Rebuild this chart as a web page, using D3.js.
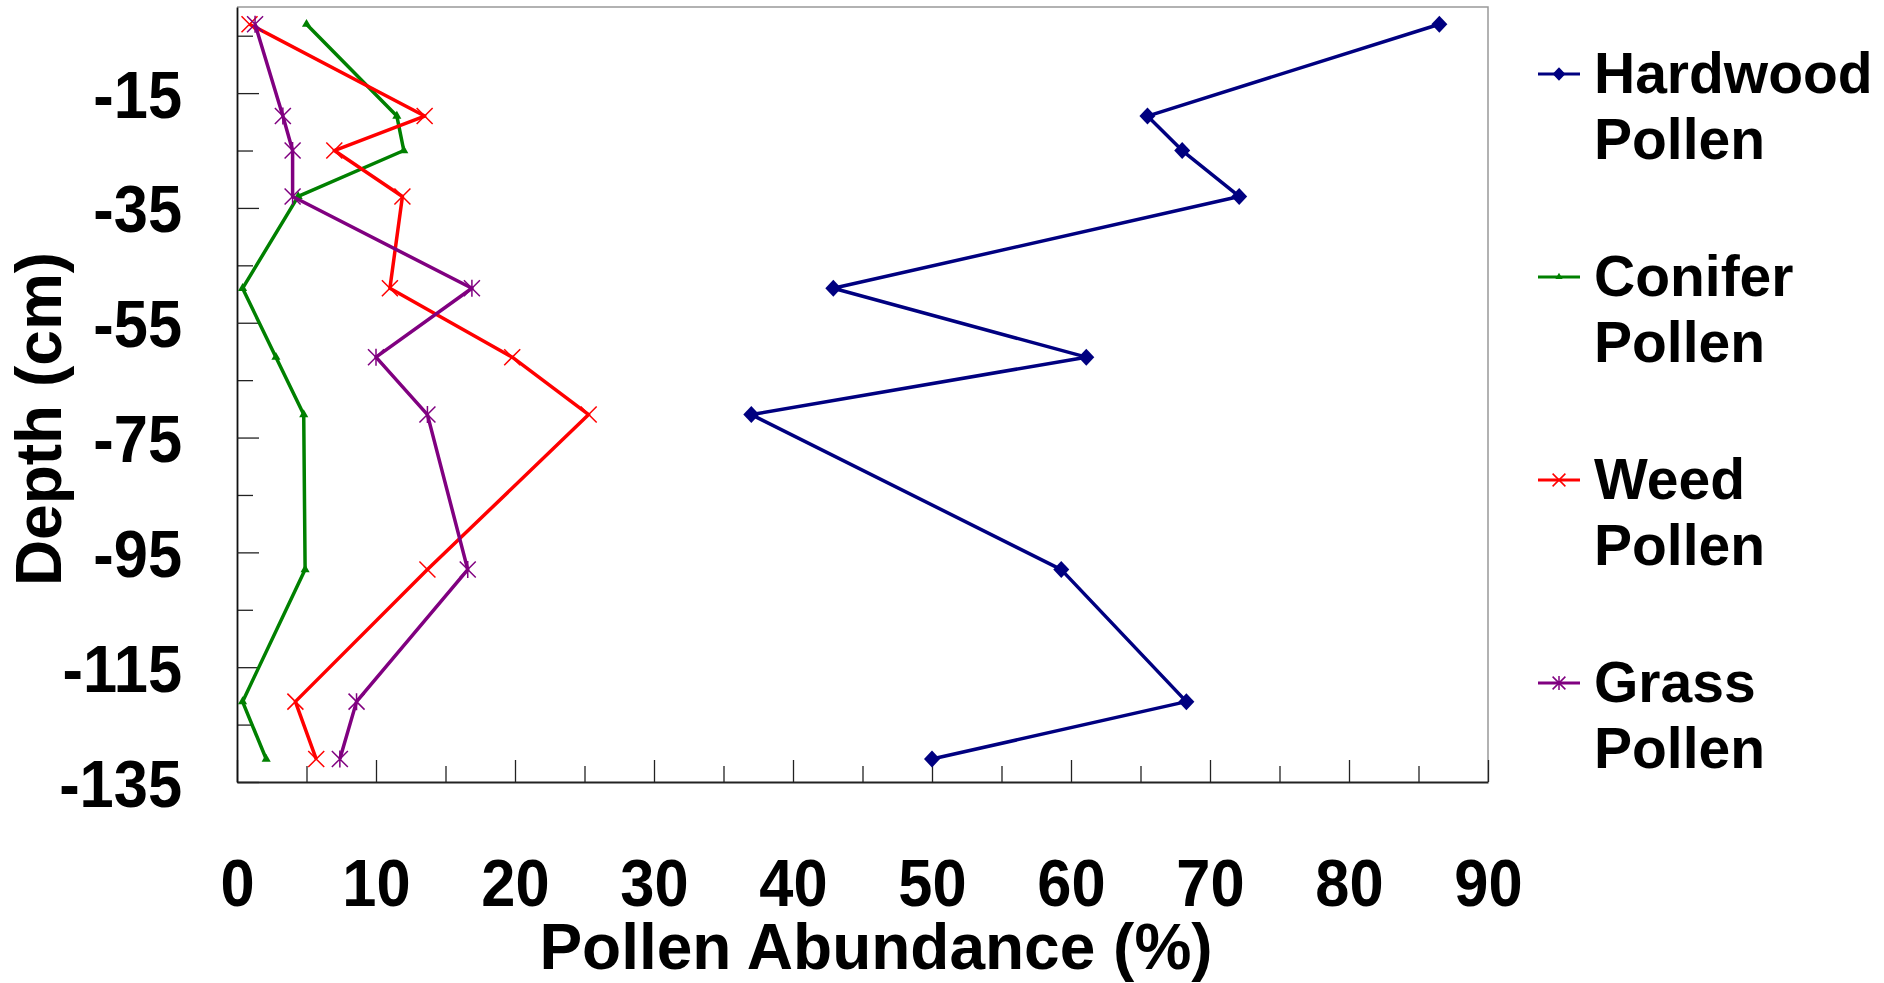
<!DOCTYPE html>
<html>
<head>
<meta charset="utf-8">
<script src="https://cdn.jsdelivr.net/npm/d3@7"></script>
<style>
  html, body { margin: 0; padding: 0; background: #fff; }
  svg text { font-family: "Liberation Sans", Arial, sans-serif; font-weight: bold; fill: #000; }
</style>
</head>
<body>
<svg class="chart" width="1884" height="983"></svg>
<script>
// sample depths (cm) and pollen abundance (%) per type
const depths = [-3, -19, -25, -33, -49, -61, -71, -98, -121, -131]
const hardwood = [86.5, 65.5, 68.0, 72.1, 42.9, 61.1, 37.0, 59.3, 68.3, 50.0]
const conifer = [5.0, 11.5, 12.0, 4.4, 0.4, 2.8, 4.8, 4.9, 0.4, 2.1]
const weed = [0.9, 13.5, 7.0, 11.9, 11.0, 19.8, 25.3, 13.7, 4.2, 5.7]
const grass = [1.3, 3.3, 4.0, 4.0, 16.9, 10.0, 13.7, 16.6, 8.6, 7.4]

const seriesNames = ['Hardwood', 'Conifer', 'Weed', 'Grass']
const xTicks = [0, 10, 20, 30, 40, 50, 60, 70, 80, 90]
const xMinorTicks = [5, 15, 25, 35, 45, 55, 65, 75, 85]
const yTicks = [-15, -35, -55, -75, -95, -115, -135]
const yMinorTicks = [-5, -25, -45, -65, -85, -105, -125]

const series = [
  {name: seriesNames[0], values: hardwood, color: '#000080', marker: 'diamond'},
  {name: seriesNames[1], values: conifer, color: '#008000', marker: 'triangle'},
  {name: seriesNames[2], values: weed, color: '#ff0000', marker: 'cross'},
  {name: seriesNames[3], values: grass, color: '#800080', marker: 'star'}
]

const svg = d3.select('.chart')
const plotLeft = 237, plotRight = 1488, plotTop = 7, plotBottom = 782

const x = d3.scaleLinear().domain([0, 90]).range([plotLeft, plotRight])
const y = d3.scaleLinear().domain([0, -135]).range([plotTop, plotBottom])

// frame (top + right in grey)
svg.append('path')
  .attr('d', `M${plotLeft},${plotTop}H${plotRight}V${plotBottom}`)
  .attr('fill', 'none')
  .attr('stroke', '#999')
  .attr('stroke-width', 1.5)

const squeeze = 0.93

// x axis
const xAxisG = svg.append('g').attr('transform', `translate(0,${plotBottom})`)
xAxisG.append('g')
  .call(d3.axisBottom(x).tickValues(xMinorTicks).tickSize(-16))
  .call(g => g.select('.domain').remove())
  .call(g => g.selectAll('text').remove())
xAxisG.append('g')
  .call(d3.axisBottom(x).tickValues(xTicks).tickSize(-22).tickSizeOuter(0).tickPadding(0)
    .tickFormat(d => String(d)))
  .call(g => g.select('.domain').attr('stroke', '#222').attr('stroke-width', 1.8))
  .selectAll('text')
  .attr('y', 124).attr('dy', null)
  .attr('transform', `scale(${squeeze},1)`)
  .style('font-size', '66px')
xAxisG.selectAll('.tick line').attr('stroke', '#222').attr('stroke-width', 1.3)

// y axis
const yAxisG = svg.append('g').attr('transform', `translate(${plotLeft},0)`)
yAxisG.append('g')
  .call(d3.axisLeft(y).tickValues(yMinorTicks).tickSize(-16))
  .call(g => g.select('.domain').remove())
  .call(g => g.selectAll('text').remove())
yAxisG.append('g')
  .call(d3.axisLeft(y).tickValues(yTicks).tickSize(-22).tickSizeOuter(0).tickPadding(0)
    .tickFormat(d => String(d)))
  .call(g => g.select('.domain').attr('stroke', '#111').attr('stroke-width', 1.8))
  .selectAll('text')
  .attr('x', -55 / squeeze).attr('dy', null).attr('y', 24)
  .attr('transform', `scale(${squeeze},1)`)
  .style('font-size', '66px')
yAxisG.selectAll('.tick line').attr('stroke', '#222').attr('stroke-width', 1.3)

// axis titles
svg.append('text')
  .attr('x', 876).attr('y', 969)
  .attr('text-anchor', 'middle')
  .style('font-size', '64px')
  .text('Pollen Abundance (%)')

svg.append('text')
  .attr('transform', 'translate(61,419) rotate(-90)')
  .attr('text-anchor', 'middle')
  .style('font-size', '64px')
  .text('Depth (cm)')

// markers
function drawMarker(sel, type, color, k) {
  if (type === 'diamond') {
    sel.append('path')
      .attr('d', `M0,${-8.5 * k}L${8 * k},0L0,${8.5 * k}L${-8 * k},0Z`)
      .attr('fill', color)
  } else if (type === 'triangle') {
    sel.append('path')
      .attr('d', d3.symbol().type(d3.symbolTriangle).size(36 * k * k)())
      .attr('fill', color)
  } else {
    let r = 8 * k
    let d = `M${-r},${-r}L${r},${r}M${-r},${r}L${r},${-r}`
    if (type === 'star') d += `M0,${-r - 0.5}L0,${r + 0.5}`
    sel.append('path')
      .attr('d', d)
      .attr('fill', 'none')
      .attr('stroke', color)
      .attr('stroke-width', 1.5)
  }
}

const line = d3.line()
  .x(d => x(d.v))
  .y(d => y(d.depth))

series.forEach(s => {
  const pts = s.values.map((v, i) => ({v: v, depth: depths[i]}))
  const g = svg.append('g')
  g.append('path')
    .datum(pts)
    .attr('d', line)
    .attr('fill', 'none')
    .attr('stroke', s.color)
    .attr('stroke-width', 3.5)
    .attr('stroke-linejoin', 'round')
  g.selectAll('.pt')
    .data(pts)
    .join('g')
    .attr('class', 'pt')
    .attr('transform', d => `translate(${x(d.v)},${y(d.depth)})`)
    .each(function () { drawMarker(d3.select(this), s.marker, s.color, 1) })
})

// legend
const legend = svg.append('g').attr('transform', 'translate(1538,74)')
series.forEach((s, i) => {
  const item = legend.append('g').attr('transform', `translate(0,${i * 203})`)
  item.append('line')
    .attr('x1', 0).attr('x2', 42)
    .attr('stroke', s.color)
    .attr('stroke-width', 3)
  const m = item.append('g').attr('transform', 'translate(21,0)')
  drawMarker(m, s.marker, s.color, 0.8)
  item.append('text')
    .attr('x', 56).attr('y', 19)
    .style('font-size', '57px')
    .text(s.name)
  item.append('text')
    .attr('x', 56).attr('y', 85)
    .style('font-size', '57px')
    .text('Pollen')
})
</script>
</body>
</html>
